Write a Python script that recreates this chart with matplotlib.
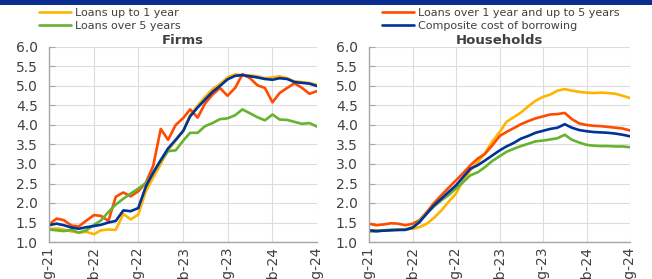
import matplotlib
matplotlib.use('Agg')
import matplotlib.pyplot as plt
import matplotlib.dates as mdates
from matplotlib.patches import Rectangle
import pandas as pd

plt.rcParams.update({
    'font.family': 'DejaVu Sans',
    'font.size': 10,
})

# ── Data (%, monthly, Aug-21 .. Aug-24) ──────────────────────────────
months = pd.date_range('2021-08-01', '2024-08-01', freq='MS')

firms_up1 = [1.33, 1.35, 1.32, 1.27, 1.24, 1.26, 1.20, 1.30, 1.32, 1.31, 1.72, 1.58, 1.70,
             2.30, 2.65, 3.00, 3.35, 3.60, 3.85, 4.25, 4.50, 4.72, 4.92, 5.05, 5.22, 5.30,
             5.28, 5.27, 5.25, 5.20, 5.22, 5.25, 5.20, 5.12, 5.10, 5.08, 5.03]
firms_1to5 = [1.45, 1.60, 1.56, 1.42, 1.40, 1.55, 1.69, 1.67, 1.54, 2.16, 2.27, 2.17, 2.30,
              2.52, 2.95, 3.90, 3.62, 4.00, 4.18, 4.40, 4.19, 4.55, 4.78, 4.95, 4.75, 4.95,
              5.30, 5.20, 5.02, 4.95, 4.58, 4.82, 4.95, 5.07, 4.95, 4.80, 4.87]
firms_over5 = [1.32, 1.30, 1.28, 1.31, 1.24, 1.30, 1.44, 1.55, 1.77, 1.96, 2.11, 2.24, 2.37,
               2.51, 2.75, 3.09, 3.33, 3.35, 3.60, 3.80, 3.80, 3.97, 4.05, 4.15, 4.17, 4.25,
               4.40, 4.30, 4.20, 4.12, 4.27, 4.14, 4.13, 4.08, 4.03, 4.05, 3.96]
firms_ccob = [1.43, 1.47, 1.43, 1.37, 1.34, 1.38, 1.41, 1.44, 1.50, 1.54, 1.81, 1.79, 1.87,
              2.42, 2.78, 3.10, 3.40, 3.62, 3.85, 4.22, 4.45, 4.65, 4.85, 5.00, 5.17, 5.26,
              5.28, 5.25, 5.22, 5.18, 5.16, 5.20, 5.18, 5.10, 5.08, 5.06, 5.00]

hh_up1 = [1.30, 1.30, 1.30, 1.31, 1.32, 1.33, 1.34, 1.38, 1.47, 1.62, 1.81, 2.03, 2.24,
          2.58, 2.84, 3.05, 3.28, 3.58, 3.82, 4.08, 4.20, 4.32, 4.48, 4.62, 4.72, 4.78,
          4.88, 4.92, 4.88, 4.85, 4.83, 4.82, 4.83, 4.82, 4.80, 4.75, 4.69]
hh_1to5 = [1.47, 1.43, 1.45, 1.48, 1.47, 1.43, 1.47, 1.56, 1.77, 2.00, 2.20, 2.39, 2.58,
           2.77, 2.97, 3.14, 3.26, 3.48, 3.72, 3.82, 3.92, 4.02, 4.10, 4.17, 4.22, 4.27,
           4.28, 4.31, 4.15, 4.04, 4.00, 3.98, 3.97, 3.95, 3.93, 3.91, 3.86]
hh_over5 = [1.27, 1.27, 1.30, 1.31, 1.31, 1.32, 1.38, 1.54, 1.74, 1.91, 2.07, 2.20, 2.37,
            2.54, 2.71, 2.79, 2.92, 3.08, 3.20, 3.31, 3.39, 3.46, 3.52, 3.58, 3.60, 3.63,
            3.66, 3.75, 3.62, 3.55, 3.49, 3.47, 3.46, 3.46, 3.45, 3.45, 3.43]
hh_ccob = [1.30, 1.28, 1.29, 1.30, 1.31, 1.31, 1.37, 1.51, 1.73, 1.94, 2.11, 2.28, 2.45,
           2.67, 2.88, 2.97, 3.09, 3.22, 3.35, 3.45, 3.54, 3.65, 3.72, 3.80, 3.85, 3.90,
           3.93, 4.02, 3.93, 3.87, 3.84, 3.82, 3.81, 3.80, 3.78, 3.75, 3.71]

labels = ['Loans up to 1 year', 'Loans over 1 year and up to 5 years',
          'Loans over 5 years', 'Composite cost of borrowing']

# ECB palette
YELLOW = '#FFB400'
RED = '#FF4B00'
GREEN = '#65B32E'
BLUE = '#003299'
GRID = '#DCDCDC'
AXIS = '#A6A6A6'
TXT = '#404040'

fig = plt.figure(figsize=(6.52, 2.79), dpi=100)
fig.patch.set_facecolor('white')

# top banner
fig.patches.append(Rectangle((0, 1 - 5 / 279), 1, 5 / 279, transform=fig.transFigure,
                             facecolor='#0A2D8F', edgecolor='none'))

ax1 = fig.add_axes([49 / 652, 1 - 242 / 279, 268 / 652, 195 / 279])
ax2 = fig.add_axes([369 / 652, 1 - 242 / 279, 261 / 652, 195 / 279])

handles = []
for ax, title, series in [
    (ax1, 'Firms', (firms_up1, firms_1to5, firms_over5, firms_ccob)),
    (ax2, 'Households', (hh_up1, hh_1to5, hh_over5, hh_ccob)),
]:
    hs = []
    for vals, col, lab in zip(series, (YELLOW, RED, GREEN, BLUE), labels):
        h, = ax.plot(months, vals, color=col, lw=1.9, label=lab, solid_capstyle='round')
        hs.append(h)
    handles = hs
    ax.set_ylim(1.0, 6.0)
    ax.set_yticks([1.0, 1.5, 2.0, 2.5, 3.0, 3.5, 4.0, 4.5, 5.0, 5.5, 6.0])
    ax.yaxis.set_major_formatter(matplotlib.ticker.FormatStrFormatter('%.1f'))
    ax.set_xlim(months[0], months[-1])
    ax.xaxis.set_major_locator(mdates.MonthLocator(bymonth=[2, 8]))
    ax.xaxis.set_major_formatter(mdates.DateFormatter('%b-%y'))
    ax.tick_params(axis='x', rotation=90, labelsize=10, colors=TXT, length=0, pad=3)
    ax.tick_params(axis='y', labelsize=10, colors=TXT, direction='in', length=4,
                   color=AXIS, pad=8)
    ax.grid(True, color=GRID, lw=0.8)
    ax.set_axisbelow(True)
    for s in ('top', 'right'):
        ax.spines[s].set_visible(False)
    for s in ('left', 'bottom'):
        ax.spines[s].set_color(AXIS)
        ax.spines[s].set_linewidth(1.0)
    ax.set_title(title, fontsize=9.5, fontweight='bold', color=TXT, pad=1)
    for lbl in ax.get_xticklabels():
        lbl.set_va('top')

leg_kw = dict(frameon=False, fontsize=8, handlelength=2.9, handletextpad=0.3,
              labelspacing=0.25, borderaxespad=0, borderpad=0)
leg1 = fig.legend([handles[0], handles[2]], [labels[0], labels[2]], loc='upper left',
                  bbox_to_anchor=(39 / 652, 1 - 8 / 279), **leg_kw)
leg2 = fig.legend([handles[1], handles[3]], [labels[1], labels[3]], loc='upper left',
                  bbox_to_anchor=(382 / 652, 1 - 8 / 279), **leg_kw)
for leg in (leg1, leg2):
    for t in leg.get_texts():
        t.set_color(TXT)

fig.savefig('out.png', dpi=100, facecolor='white')
